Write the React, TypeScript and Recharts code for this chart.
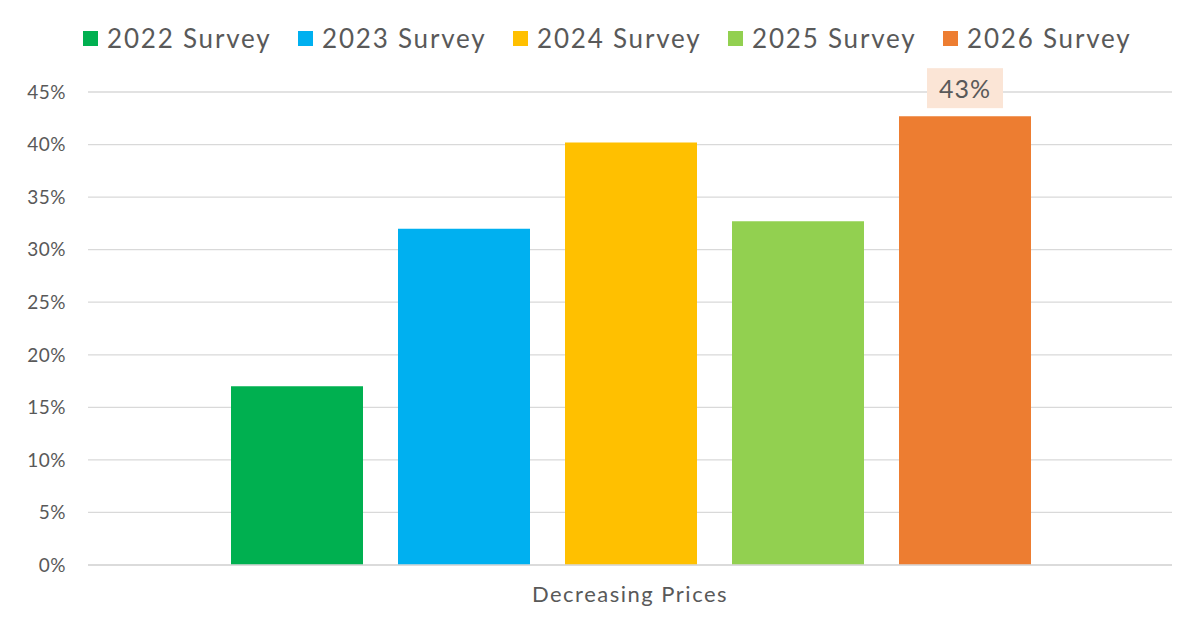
import React from 'react';
import { BarChart, Bar, XAxis, YAxis, CartesianGrid, Legend, LabelList } from 'recharts';

const categories = ['Decreasing Prices'];
const seriesNames = ['2022 Survey', '2023 Survey', '2024 Survey', '2025 Survey', '2026 Survey'];
const seriesValues = [17, 32, 40.2, 32.7, 42.7];
const seriesColors = ['#00b050', '#00b0f0', '#ffc000', '#92d050', '#ed7d31'];
const yTicks = [0, 5, 10, 15, 20, 25, 30, 35, 40, 45];

const data = categories.map((c) => {
  const row: Record<string, any> = { category: c };
  seriesNames.forEach((n, i) => {
    row[n] = seriesValues[i];
  });
  return row;
});

const FONT = 'Lato, "Open Sans", sans-serif';
const TEXT = '#595959';

const renderLegend = () => (
  <div style={{ display: 'flex', alignItems: 'center', paddingLeft: 83, height: 48, fontFamily: FONT }}>
    {seriesNames.map((n, i) => (
      <div key={n} style={{ display: 'flex', alignItems: 'center', width: 215, flex: '0 0 auto' }}>
        <span style={{ width: 15, height: 15, background: seriesColors[i], display: 'inline-block', marginRight: 9 }} />
        <span style={{ fontSize: 26, color: TEXT, letterSpacing: 1.8, whiteSpace: 'nowrap' }}>{n}</span>
      </div>
    ))}
  </div>
);

const renderTopLabel = (props: any) => {
  const { x, y, width, value } = props;
  const cx = x + width / 2;
  const bw = 76;
  const bh = 40;
  const by = y - 8 - bh;
  return (
    <g>
      <rect x={cx - bw / 2} y={by} width={bw} height={bh} fill="#fbe5d6" />
      <text x={cx} y={by + bh / 2} textAnchor="middle" dominantBaseline="central" fontSize={25} fill={TEXT} fontFamily={FONT} letterSpacing={1}>
        {`${Math.round(value)}%`}
      </text>
    </g>
  );
};

export default function App() {
  return (
    <div style={{ position: 'absolute', left: 0, top: 0, width: 1200, height: 628, background: '#fff' }}>
      <BarChart
        width={1200}
        height={628}
        data={data}
        margin={{ top: 14, right: 28, bottom: 13, left: 0 }}
        barCategoryGap={143}
        barGap={35}
      >
        <CartesianGrid vertical={false} stroke="#d9d9d9" strokeWidth={1.3} />
        <XAxis
          dataKey="category"
          height={50}
          tickLine={false}
          axisLine={{ stroke: '#d9d9d9', strokeWidth: 1.3 }}
          tickSize={0}
          tickMargin={21}
          tick={{ fontSize: 22, fill: TEXT, fontFamily: FONT, letterSpacing: 1.5 }}
        />
        <YAxis
          width={88}
          domain={[0, 45]}
          ticks={yTicks}
          interval={0}
          tickFormatter={(v: number) => `${v}%`}
          axisLine={false}
          tickLine={false}
          tickSize={0}
          tickMargin={22}
          tick={{ fontSize: 19, fill: TEXT, fontFamily: FONT, letterSpacing: 0.5 }}
        />
        <Legend verticalAlign="top" align="left" height={78} content={renderLegend} />
        {seriesNames.map((n, i) => (
          <Bar key={n} dataKey={n} fill={seriesColors[i]} isAnimationActive={false}>
            {i === seriesNames.length - 1 ? <LabelList dataKey={n} content={renderTopLabel} /> : null}
          </Bar>
        ))}
      </BarChart>
    </div>
  );
}
